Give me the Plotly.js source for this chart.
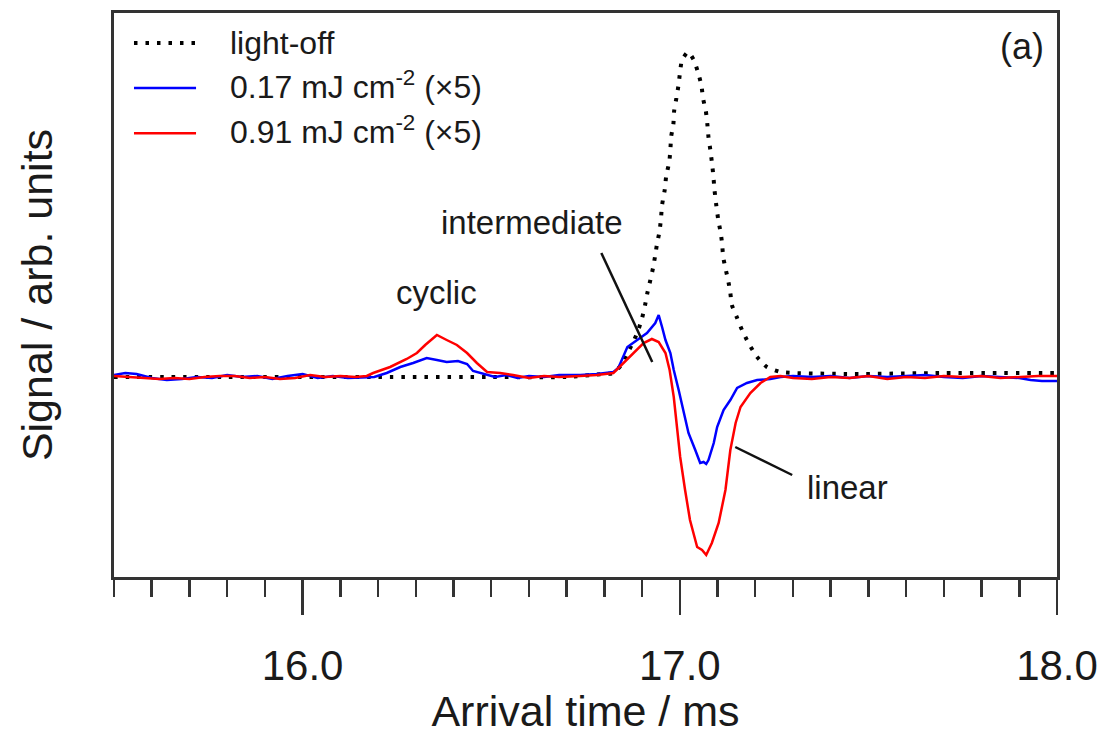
<!DOCTYPE html>
<html>
<head>
<meta charset="utf-8">
<script src="https://cdn.plot.ly/plotly-3.0.1.min.js"></script>
<style>html,body{margin:0;padding:0;background:#fff;}#chart{width:1106px;height:735px;}</style>
</head>
<body>
<div id="chart"></div>
<script>
// ---- data (arrival time in ms, signal in arb. units) ----
const lightOffTime = [15.50,15.80,16.20,16.50,16.70,16.797,16.824,16.849,16.863,16.879,16.890,16.900,16.908,16.914,16.922,16.929,16.935,16.940,16.946,16.950,16.953,16.960,16.964,16.972,16.975,16.977,16.983,16.985,16.991,16.997,17.001,17.006,17.022,17.037,17.048,17.057,17.062,17.069,17.073,17.076,17.081,17.085,17.089,17.092,17.097,17.102,17.108,17.112,17.115,17.121,17.129,17.134,17.138,17.152,17.165,17.182,17.205,17.231,17.267,17.301,17.46,17.70,18.00];
const lightOffSignal = [0,0,0,0,0,0.03,0.04,0.14,0.25,0.37,0.47,0.59,0.72,0.84,0.97,1.09,1.22,1.34,1.45,1.58,1.72,1.87,2.01,2.15,2.27,2.40,2.53,2.66,2.79,2.93,3.06,3.17,3.25,3.17,3.05,2.92,2.78,2.66,2.53,2.40,2.27,2.15,2.01,1.87,1.71,1.57,1.45,1.34,1.20,1.09,0.95,0.84,0.72,0.59,0.47,0.34,0.20,0.10,0.05,0.04,0.03,0.04,0.04];

const lowTime = [15.50,15.53,15.56,15.60,15.64,15.68,15.72,15.76,15.80,15.84,15.88,15.92,15.96,16.00,16.04,16.08,16.12,16.16,16.19,16.223,16.259,16.293,16.329,16.356,16.382,16.412,16.436,16.452,16.479,16.51,16.54,16.57,16.60,16.64,16.68,16.736,16.78,16.824,16.837,16.861,16.887,16.913,16.935,16.944,16.953,16.962,16.975,16.984,16.997,17.010,17.023,17.041,17.054,17.063,17.070,17.076,17.090,17.099,17.116,17.134,17.152,17.178,17.205,17.240,17.267,17.30,17.35,17.40,17.45,17.50,17.55,17.60,17.65,17.70,17.75,17.80,17.85,17.90,17.93,17.96,18.00];
const lowSignal = [0.02,0.04,0.03,-0.01,-0.03,-0.02,0.00,-0.01,0.02,0.00,0.01,-0.02,0.01,0.03,-0.01,0.01,-0.01,0.00,0.00,0.04,0.10,0.14,0.19,0.17,0.15,0.16,0.13,0.06,0.03,0.00,0.02,-0.01,0.01,0.00,0.02,0.02,0.03,0.05,0.09,0.30,0.37,0.44,0.54,0.62,0.50,0.37,0.24,0.07,-0.13,-0.36,-0.56,-0.73,-0.86,-0.85,-0.87,-0.83,-0.66,-0.50,-0.33,-0.23,-0.11,-0.06,-0.03,-0.02,0.00,0.01,0.00,0.01,-0.01,0.01,0.00,0.01,0.02,0.00,-0.01,0.01,0.00,-0.01,-0.03,-0.04,-0.04];

const highTime = [15.50,15.54,15.58,15.62,15.66,15.70,15.74,15.78,15.82,15.86,15.90,15.94,15.98,16.02,16.06,16.10,16.14,16.17,16.187,16.232,16.276,16.303,16.325,16.356,16.382,16.409,16.436,16.462,16.489,16.524,16.558,16.60,16.64,16.68,16.736,16.78,16.824,16.851,16.877,16.904,16.926,16.944,16.962,16.973,16.984,16.992,17.001,17.014,17.027,17.046,17.059,17.070,17.085,17.103,17.121,17.134,17.148,17.161,17.187,17.214,17.240,17.267,17.30,17.35,17.40,17.45,17.50,17.55,17.60,17.65,17.70,17.75,17.80,17.85,17.90,17.95,18.00];
const highSignal = [0.01,0.00,-0.01,-0.02,-0.01,-0.02,0.00,0.01,0.01,-0.01,0.00,-0.02,-0.01,0.02,0.00,0.01,0.00,0.01,0.04,0.10,0.18,0.24,0.32,0.42,0.37,0.32,0.24,0.14,0.05,0.04,0.02,-0.01,0.01,0.00,0.01,0.02,0.04,0.14,0.24,0.34,0.38,0.35,0.24,0.07,-0.20,-0.46,-0.80,-1.13,-1.43,-1.70,-1.73,-1.78,-1.66,-1.46,-1.13,-0.73,-0.46,-0.30,-0.16,-0.06,0.00,0.01,-0.01,-0.02,0.00,-0.01,0.01,-0.02,0.00,-0.01,0.01,0.00,0.01,-0.01,0.00,0.01,0.01];

const seriesNames = ['light-off', '0.17 mJ cm<sup>-2</sup> (×5)', '0.91 mJ cm<sup>-2</sup> (×5)'];
const seriesColors = ['#000000', '#0000ff', '#ff0000'];
const xTickVals = [16.0, 17.0, 18.0];
const xTickText = ['16.0', '17.0', '18.0'];

// ---- chart ----
const FONT = 'Liberation Sans, Arial, Helvetica, sans-serif';
const INK = '#1a1a1a';
const DOTS = '3.5px,8px';

const traces = [
  {x: lightOffTime, y: lightOffSignal, name: seriesNames[0], mode: 'lines',
   line: {color: seriesColors[0], width: 4, dash: DOTS, shape: 'spline', smoothing: 0.6}},
  {x: lowTime, y: lowSignal, name: seriesNames[1], mode: 'lines',
   line: {color: seriesColors[1], width: 2.5}},
  {x: highTime, y: highSignal, name: seriesNames[2], mode: 'lines',
   line: {color: seriesColors[2], width: 2.5}}
];

// legend drawn as sample lines + labels (paper coordinates)
const legendRowsY = [0.9468, 0.867, 0.787];
const legendShapes = seriesNames.map((n, i) => ({
  type: 'line', xref: 'paper', yref: 'paper', x0: 0.0212, x1: 0.087, y0: legendRowsY[i], y1: legendRowsY[i],
  line: {color: seriesColors[i], width: i === 0 ? 4 : 2.5, dash: i === 0 ? DOTS : 'solid'}
}));
const legendLabels = seriesNames.map((n, i) => ({
  text: n, xref: 'paper', yref: 'paper', x: 0.1209, y: legendRowsY[i] + (i === 0 ? 0 : 0.006),
  xanchor: 'left', yanchor: 'middle', showarrow: false, font: {size: 32, family: FONT, color: INK}
}));

const layout = {
  width: 1106, height: 735,
  margin: {l: 114, r: 49, t: 13, b: 158},
  paper_bgcolor: '#fff', plot_bgcolor: '#fff',
  font: {family: FONT, color: INK},
  showlegend: false,
  xaxis: {
    range: [15.5, 18.0], showgrid: false, zeroline: false,
    showline: true, linewidth: 3, linecolor: '#333', mirror: true,
    ticks: 'outside', ticklen: 35, tickwidth: 2.5, tickcolor: '#333',
    tickmode: 'array', tickvals: xTickVals, ticktext: xTickText,
    tickfont: {size: 42, family: FONT, color: INK}, ticklabelstandoff: 15,
    minor: {dtick: 0.1, tick0: 15.5, ticks: 'outside', ticklen: 17, tickwidth: 2.5, tickcolor: '#333', showgrid: false},
    title: {text: 'Arrival time / ms', font: {size: 43, family: FONT, color: INK}}
  },
  yaxis: {
    range: [-2.0, 3.64], showgrid: false, zeroline: false,
    showline: true, linewidth: 3, linecolor: '#333', mirror: true,
    ticks: '', showticklabels: false, automargin: true,
    title: {text: 'Signal / arb. units', standoff: 45, font: {size: 43, family: FONT, color: INK}}
  },
  shapes: [
    {type: 'line', xref: 'x', yref: 'y', x0: 16.792, y0: 1.24, x1: 16.927, y1: 0.15, line: {color: '#111', width: 2.5}},
    {type: 'line', xref: 'x', yref: 'y', x0: 17.147, y0: -0.70, x1: 17.298, y1: -0.98, line: {color: '#111', width: 2.5}}
  ].concat(legendShapes),
  annotations: [
    {text: 'cyclic', x: 16.354, y: 0.85, xref: 'x', yref: 'y', showarrow: false, font: {size: 33, family: FONT, color: INK}},
    {text: 'intermediate', x: 16.609, y: 1.55, xref: 'x', yref: 'y', showarrow: false, font: {size: 33, family: FONT, color: INK}},
    {text: 'linear', x: 17.444, y: -1.10, xref: 'x', yref: 'y', showarrow: false, font: {size: 33, family: FONT, color: INK}},
    {text: '(a)', x: 0.988, y: 0.94, xref: 'paper', yref: 'paper', xanchor: 'right', yanchor: 'middle', showarrow: false, font: {size: 36, family: FONT, color: INK}}
  ].concat(legendLabels)
};

Plotly.newPlot('chart', traces, layout, {displayModeBar: false, staticPlot: true});
</script>
</body>
</html>
